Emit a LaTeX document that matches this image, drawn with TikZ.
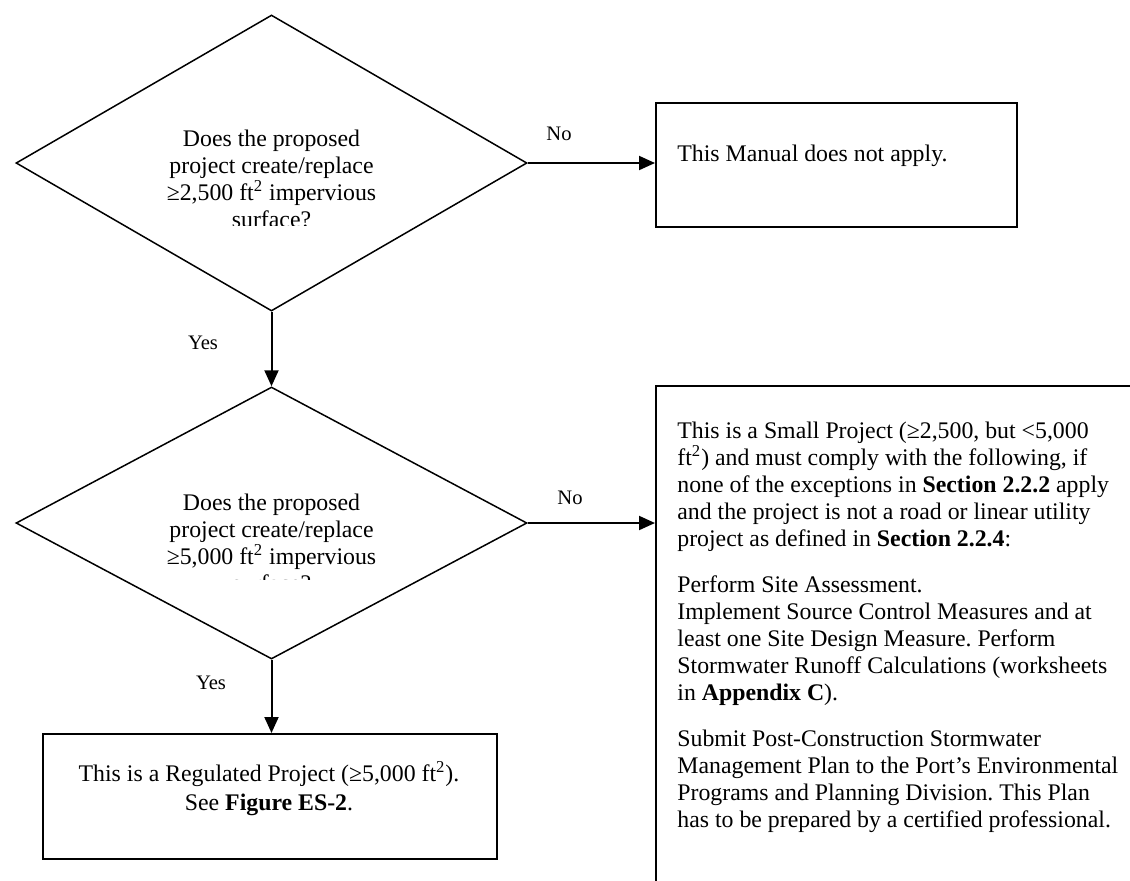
\documentclass[tikz,border=0pt]{standalone}
\usepackage{fontspec}
\setmainfont{Liberation Serif}
\usetikzlibrary{shapes.geometric,arrows.meta}
\frenchspacing
\tikzset{
  dia/.style={draw, shape=diamond, line width=0.75pt, inner sep=0pt},
  frame/.style={draw, rectangle, line width=0.9pt, inner sep=0pt, anchor=north west},
  arr/.style={line width=1pt, -{Triangle[length=8pt,width=7pt]}},
  lbl/.style={font=\fontsize{10.3pt}{12pt}\selectfont, inner sep=0pt, anchor=base},
  txt/.style={inner sep=0pt},
}
\begin{document}
\begin{tikzpicture}[x=0.5pt,y=-0.5pt,font=\fontsize{11.9pt}{13.5pt}\selectfont]
\useasboundingbox (0,0) rectangle (1130,880);
\clip (0,0) rectangle (1130,880);

% shapes
\node[dia, minimum width=255.5pt, minimum height=148pt] (d1) at (271.5,163) {};
\node[dia, minimum width=255.5pt, minimum height=136pt] (d2) at (271.5,523) {};
\node[frame, minimum width=180.5pt, minimum height=62pt] (b1) at (655,102) {};
\node[frame, minimum width=245pt, minimum height=260pt] (b2) at (655,385) {};
\node[frame, minimum width=227pt, minimum height=62.5pt] (b3) at (42,733) {};

% diamond texts (clipped as in the original)
\begin{scope}
\clip (0,0) rectangle (1130,225);
\node[txt, anchor=base] (q1) at (271.5,146) {\parbox[t]{160pt}{\centering
Does the proposed\\
project create/replace\\
≥2,500 ft\textsuperscript{2} impervious\\
surface?}};
\end{scope}
\begin{scope}
\clip (0,385) rectangle (1130,579.5);
\node[txt, anchor=base] (q2) at (271.5,510.5) {\parbox[t]{160pt}{\centering
Does the proposed\\
project create/replace\\
≥5,000 ft\textsuperscript{2} impervious\\
surface?}};
\end{scope}

% box texts
\node[txt, anchor=base west] (t1) at (677,161.5) {This Manual does not apply.};
\node[txt, anchor=base west] (t2) at (677,438.5) {\parbox[t]{260pt}{\raggedright
This is a Small Project (≥2,500, but <5,000\\
ft\textsuperscript{2}) and must comply with the following, if\\
none of the exceptions in \textbf{Section 2.2.2} apply\\
and the project is not a road or linear utility\\
project as defined in \textbf{Section 2.2.4}:\\[9.5pt]
Perform Site Assessment.\\
Implement Source Control Measures and at\\
least one Site Design Measure. Perform\\
Stormwater Runoff Calculations (worksheets\\
in \textbf{Appendix C}).\\[9.5pt]
Submit Post-Construction Stormwater\\
Management Plan to the Port’s Environmental\\
Programs and Planning Division. This Plan\\
has to be prepared by a certified professional.}};
\node[txt, anchor=base] (t3) at (269,781) {\parbox[t]{240pt}{\centering\fontsize{11.9pt}{14.5pt}\selectfont
This is a Regulated Project (≥5,000 ft\textsuperscript{2}).\\
See \textbf{Figure ES-2}.}};

% connectors
\draw[arr] (d1.east) -- (d1.east -| b1.west);
\draw[arr] (d2.east) -- (d2.east -| b2.west);
\draw[arr] (d1.south) -- (d2.north);
\draw[arr] (d2.south) -- (d2.south |- b3.north);

% labels
\node[lbl] (no1) at (559,140) {No};
\node[lbl] (no2) at (570,504) {No};
\node[lbl] (yes1) at (203,349) {Yes};
\node[lbl] (yes2) at (211,689) {Yes};
\end{tikzpicture}
\end{document}
